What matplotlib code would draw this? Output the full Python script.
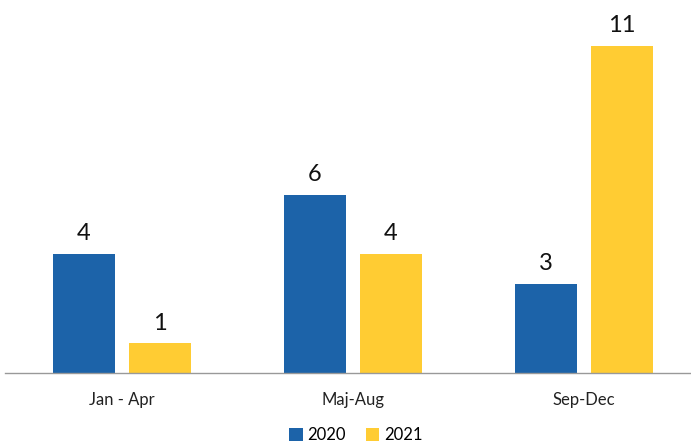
import matplotlib.pyplot as plt
import numpy as np

plt.rcParams['font.family'] = ['Lato', 'DejaVu Sans']

categories = ['Jan - Apr', 'Maj-Aug', 'Sep-Dec']
series_names = ['2020', '2021']
values_2020 = [4, 6, 3]
values_2021 = [1, 4, 11]
colors = ['#1C63A9', '#FFCC33']

fig = plt.figure(figsize=(6.91, 4.42), dpi=100)
ax = fig.add_axes([5 / 691, 1 - 373 / 442, 686 / 691, 373 / 442])

x = np.arange(len(categories))
width = 0.268
offset = 0.1645

for vals, name, col, dx in [(values_2020, series_names[0], colors[0], -offset),
                            (values_2021, series_names[1], colors[1], offset)]:
    bars = ax.bar(x + dx, vals, width, color=col, label=name)
    for b, v in zip(bars, vals):
        ax.annotate(str(v), (b.get_x() + b.get_width() / 2, v),
                    xytext=(0, 7), textcoords='offset points',
                    ha='center', va='bottom', fontsize=17, color='#111111')

ax.set_xlim(-0.506, 2.463)
ax.set_ylim(0, 12.55)
ax.set_yticks([])
ax.set_xticks(x)
ax.set_xticklabels(categories, fontsize=12, color='#222222')
ax.tick_params(axis='x', length=0, pad=14)
for s in ['top', 'right', 'left']:
    ax.spines[s].set_visible(False)
ax.spines['bottom'].set_color('#999999')
ax.spines['bottom'].set_linewidth(1.0)

fig.legend(loc='center', bbox_to_anchor=(356 / 691, 1 - 435 / 442), ncol=2,
           frameon=False, fontsize=12, handlelength=0.8, handleheight=0.8,
           handletextpad=0.3, columnspacing=1.2)

fig.savefig('out.png', dpi=100)
